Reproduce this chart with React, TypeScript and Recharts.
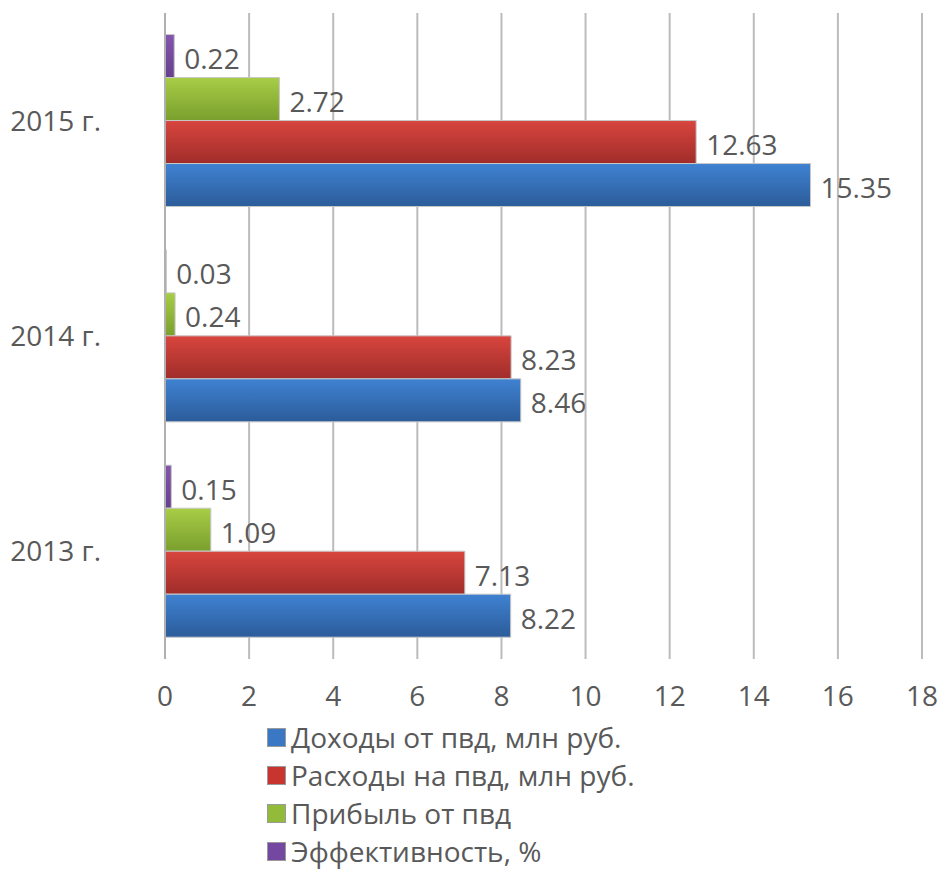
import React from 'react';
import { BarChart, Bar, XAxis, YAxis, CartesianGrid, Legend, LabelList } from 'recharts';

const years = ['2015 г.', '2014 г.', '2013 г.'];
const income = [15.35, 8.46, 8.22];
const expenses = [12.63, 8.23, 7.13];
const profit = [2.72, 0.24, 1.09];
const efficiency = [0.22, 0.03, 0.15];
const xTicks = [0, 2, 4, 6, 8, 10, 12, 14, 16, 18];

const FONT = '"Open Sans", sans-serif';
const TEXT = '#595959';

const series = [
  { key: 'income', name: 'Доходы от пвд, млн руб.', top: '#3f82d2', bottom: '#2c5c9a', swatch: '#3a78c6' },
  { key: 'expenses', name: 'Расходы на пвд, млн руб.', top: '#d8453e', bottom: '#a02d2a', swatch: '#c8352f' },
  { key: 'profit', name: 'Прибыль от пвд', top: '#a8cd46', bottom: '#7a9f2e', swatch: '#92bb3a' },
  { key: 'efficiency', name: 'Эффективность, %', top: '#8455ad', bottom: '#66408e', swatch: '#7448a0' },
];

const data = years.map((year, i) => ({
  year,
  income: income[i],
  expenses: expenses[i],
  profit: profit[i],
  efficiency: efficiency[i],
}));

// bars are drawn top-to-bottom inside each group, so reverse the series order
const barOrder = [...series].reverse();

const LegendBox = () => (
  <div style={{ fontFamily: FONT, fontSize: 28, color: TEXT }}>
    {series.map(s => (
      <div key={s.key} style={{ display: 'flex', alignItems: 'center', height: 38 }}>
        <span
          style={{
            display: 'inline-block',
            width: 17,
            height: 17,
            background: s.swatch,
            border: '1px solid #9a9a9a',
            marginRight: 5,
          }}
        />
        <span style={{ whiteSpace: 'nowrap' }}>{s.name}</span>
      </div>
    ))}
  </div>
);

export default function App() {
  return (
    <div style={{ position: 'absolute', left: 0, top: 0, width: 940, height: 870, background: '#fff' }}>
      <BarChart
        width={940}
        height={870}
        data={data}
        layout="vertical"
        margin={{ top: 13, right: 18, bottom: 161, left: 0 }}
        barCategoryGap="10%"
        barGap={0}
      >
        <defs>
          {series.map(s => (
            <linearGradient key={s.key} id={`grad-${s.key}`} x1="0" y1="0" x2="0" y2="1">
              <stop offset="0%" stopColor={s.top} />
              <stop offset="100%" stopColor={s.bottom} />
            </linearGradient>
          ))}
        </defs>
        <CartesianGrid horizontal={false} stroke="#bcbcbc" strokeWidth={2} />
        <XAxis
          type="number"
          domain={[0, 18]}
          ticks={xTicks}
          axisLine={false}
          tickLine={false}
          tickMargin={21}
          height={50}
          tick={{ fill: TEXT, fontSize: 28, fontFamily: FONT }}
        />
        <YAxis
          type="category"
          dataKey="year"
          width={165}
          axisLine={{ stroke: '#b0b0b0', strokeWidth: 2 }}
          tickLine={false}
          tickMargin={58}
          tick={{ fill: TEXT, fontSize: 28, fontFamily: FONT }}
        />
        <Legend
          layout="vertical"
          align="center"
          verticalAlign="middle"
          content={<LegendBox />}
          wrapperStyle={{ top: 718, left: 267, width: 520 }}
        />
        {barOrder.map(s => (
          <Bar
            key={s.key}
            dataKey={s.key}
            name={s.name}
            fill={`url(#grad-${s.key})`}
            stroke="#c8c8c8"
            strokeWidth={1}
            isAnimationActive={false}
          >
            <LabelList
              dataKey={s.key}
              position="right"
              offset={10}
              dy={3}
              fill={TEXT}
              fontSize={28}
              fontFamily={FONT}
            />
          </Bar>
        ))}
      </BarChart>
    </div>
  );
}
